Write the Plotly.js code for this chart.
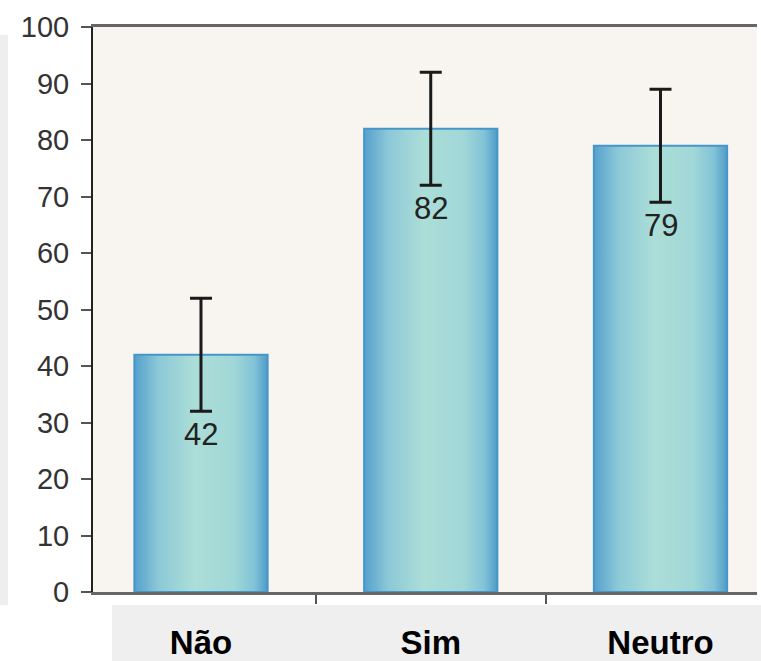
<!DOCTYPE html>
<html>
<head>
<meta charset="utf-8">
<script src="https://cdn.plot.ly/plotly-3.0.1.min.js"></script>
<style>html,body{margin:0;padding:0;background:#fff;}</style>
</head>
<body>
<div id="chart" style="width:761px;height:661px;"></div>
<script>
var categories = ["Não", "Sim", "Neutro"];
var values = [42, 82, 79];
var errors = [10, 10, 10];
var yTicks = [0, 10, 20, 30, 40, 50, 60, 70, 80, 90, 100];

var trace = {
  type: "bar",
  x: categories,
  y: values,
  width: 0.58,
  marker: {color: "rgb(150,208,216)", line: {color: "rgb(70,150,200)", width: 2}},
  error_y: {type: "data", array: errors, visible: true, color: "#1a1a1a", thickness: 3, width: 11},
  hoverinfo: "none"
};

var annotations = categories.map(function (c, i) {
  return {
    x: c, y: values[i] - errors[i], xref: "x", yref: "y",
    text: String(values[i]), showarrow: false, yanchor: "top", yshift: -4,
    font: {family: "Liberation Sans, Arial, sans-serif", size: 31, color: "#222"}
  };
});

var layout = {
  width: 761, height: 661,
  margin: {l: 93, r: 4, t: 27, b: 69},
  paper_bgcolor: "#ffffff",
  plot_bgcolor: "#f8f5f0",
  showlegend: false,
  font: {family: "Liberation Sans, Arial, sans-serif", color: "#333"},
  xaxis: {
    type: "category",
    range: [-0.47, 2.42],
    tickson: "boundaries",
    ticks: "outside", ticklen: 9, tickwidth: 2, tickcolor: "#555",
    showline: true, linecolor: "#666", linewidth: 3, mirror: true,
    ticklabelstandoff: 19,
    tickfont: {family: "Liberation Sans, Arial, sans-serif", size: 33, color: "#000", weight: "bold"},
    showgrid: false, zeroline: false, fixedrange: true
  },
  yaxis: {
    range: [0, 100], tickvals: yTicks,
    ticks: "outside", ticklen: 10, tickwidth: 2, tickcolor: "#555",
    showline: true, linecolor: "#222", linewidth: 2,
    ticklabelstandoff: 6,
    tickfont: {family: "Liberation Sans, Arial, sans-serif", size: 29, color: "#333"},
    showgrid: false, zeroline: false, fixedrange: true
  },
  annotations: annotations,
  shapes: [
    {type: "rect", xref: "paper", yref: "paper", layer: "below",
     x0: -93/664, x1: -85/664, y0: -13/565, y1: 557/565, fillcolor: "#eeeeee", line: {width: 0}},
    {type: "rect", xref: "paper", yref: "paper", layer: "below",
     x0: 19/664, x1: 668/664, y0: -69/565, y1: -13/565, fillcolor: "#efefef", line: {width: 0}}
  ]
};

Plotly.newPlot("chart", [trace], layout, {displayModeBar: false, staticPlot: true}).then(function (gd) {
  var svg = gd.querySelector("svg.main-svg");
  var ns = "http://www.w3.org/2000/svg";
  var defs = svg.querySelector("defs") || svg.insertBefore(document.createElementNS(ns, "defs"), svg.firstChild);
  var g = document.createElementNS(ns, "linearGradient");
  g.setAttribute("id", "barGrad");
  g.setAttribute("x1", "0"); g.setAttribute("x2", "1"); g.setAttribute("y1", "0"); g.setAttribute("y2", "0");
  [["0", "rgb(85,160,205)"], ["0.18", "rgb(140,200,215)"], ["0.45", "rgb(172,222,216)"],
   ["0.75", "rgb(160,215,215)"], ["0.9", "rgb(130,195,215)"], ["1", "rgb(80,155,200)"]].forEach(function (s) {
    var st = document.createElementNS(ns, "stop");
    st.setAttribute("offset", s[0]); st.setAttribute("stop-color", s[1]);
    g.appendChild(st);
  });
  defs.appendChild(g);
  gd.querySelectorAll(".bars .point path").forEach(function (p) {
    p.style.fill = "url(#barGrad)";
  });
});
</script>
</body>
</html>
